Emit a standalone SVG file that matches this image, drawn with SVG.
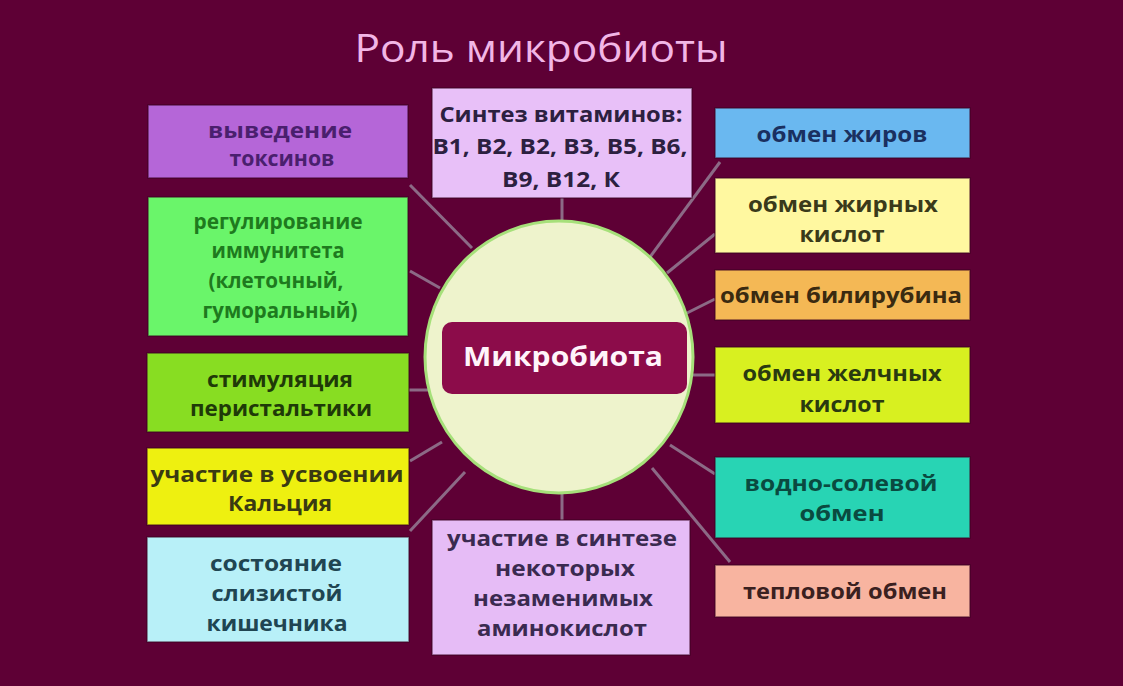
<svg xmlns="http://www.w3.org/2000/svg" width="1123" height="686" viewBox="0 0 1123 686">
<style>
.t{font-family:"Open Sans","Liberation Sans",sans-serif;font-weight:700;font-size:22px;text-anchor:middle}
.bx{stroke:#3a0020;stroke-width:1.5;stroke-opacity:0.6}
.c{stroke:#8c6a86;stroke-width:3;fill:none}
</style>
<rect width="1123" height="686" fill="#5e0035"/>
<text x="541" y="62" font-family="'Open Sans','Liberation Sans',sans-serif" font-size="38" fill="#f2b6e6" text-anchor="middle" textLength="373" lengthAdjust="spacingAndGlyphs">Роль микробиоты</text>

<g id="connectors">
<line class="c" x1="562" y1="198" x2="562" y2="221"/>
<line class="c" x1="562" y1="493" x2="562" y2="520"/>
<line class="c" x1="410" y1="185" x2="472" y2="248"/>
<line class="c" x1="410" y1="271" x2="440" y2="288"/>
<line class="c" x1="408" y1="390" x2="428" y2="390"/>
<line class="c" x1="410" y1="461" x2="442" y2="442"/>
<line class="c" x1="410" y1="531" x2="465" y2="472"/>
<line class="c" x1="720" y1="162" x2="650" y2="257"/>
<line class="c" x1="715" y1="234" x2="667" y2="273"/>
<line class="c" x1="715" y1="299" x2="683" y2="315"/>
<line class="c" x1="688" y1="375" x2="715" y2="375"/>
<line class="c" x1="670" y1="445" x2="715" y2="474"/>
<line class="c" x1="652" y1="468" x2="730" y2="562"/>
</g>

<g id="center">
<ellipse cx="559" cy="357" rx="134" ry="136" fill="#eef3cc" stroke="#a6e07a" stroke-width="3"/>
<rect x="442" y="322" width="245" height="72" rx="10" fill="#8c0c4a"/>
<text x="563" y="366" font-family="'Open Sans','Liberation Sans',sans-serif" font-weight="700" font-size="26" fill="#fff4fa" text-anchor="middle" textLength="200" lengthAdjust="spacingAndGlyphs">Микробиота</text>
</g>

<g id="n-toxins">
<rect class="bx" x="148" y="105" width="260" height="73" fill="#b566d8"/>
<text class="t" x="280" y="138" fill="#4a1f6e" textLength="144" lengthAdjust="spacingAndGlyphs">выведение</text>
<text class="t" x="282" y="166" fill="#4a1f6e" textLength="105" lengthAdjust="spacingAndGlyphs">токсинов</text>
</g>

<g id="n-immun">
<rect class="bx" x="148" y="197" width="260" height="139" fill="#6af56a"/>
<text class="t" x="278" y="229" fill="#1e7a1e" font-size="20" textLength="169" lengthAdjust="spacingAndGlyphs">регулирование</text>
<text class="t" x="278" y="258" fill="#1e7a1e" font-size="20" textLength="133" lengthAdjust="spacingAndGlyphs">иммунитета</text>
<text class="t" x="276" y="288" fill="#1e7a1e" font-size="20" textLength="135" lengthAdjust="spacingAndGlyphs">(клеточный,</text>
<text class="t" x="280" y="318" fill="#1e7a1e" font-size="20" textLength="155" lengthAdjust="spacingAndGlyphs">гуморальный)</text>
</g>

<g id="n-peristalsis">
<rect class="bx" x="147" y="353" width="262" height="79" fill="#88dd22"/>
<text class="t" x="280" y="387" fill="#1f3a08" textLength="146" lengthAdjust="spacingAndGlyphs">стимуляция</text>
<text class="t" x="281" y="416" fill="#1f3a08" textLength="182" lengthAdjust="spacingAndGlyphs">перистальтики</text>
</g>

<g id="n-calcium">
<rect class="bx" x="147" y="448" width="262" height="77" fill="#eef010"/>
<text class="t" x="277" y="482" fill="#3a3a12" textLength="253" lengthAdjust="spacingAndGlyphs">участие в усвоении</text>
<text class="t" x="280" y="511" fill="#3a3a12" textLength="104" lengthAdjust="spacingAndGlyphs">Кальция</text>
</g>

<g id="n-mucosa">
<rect class="bx" x="147" y="537" width="262" height="105" fill="#b8f0f8"/>
<text class="t" x="276" y="571" fill="#204552" textLength="132" lengthAdjust="spacingAndGlyphs">состояние</text>
<text class="t" x="277" y="601" fill="#204552" textLength="131" lengthAdjust="spacingAndGlyphs">слизистой</text>
<text class="t" x="277" y="631" fill="#204552" textLength="141" lengthAdjust="spacingAndGlyphs">кишечника</text>
</g>

<g id="n-vitamins">
<rect class="bx" x="432" y="88" width="260" height="110" fill="#e8c0f8"/>
<text class="t" x="561" y="122" fill="#2c2040" font-size="24" textLength="243" lengthAdjust="spacingAndGlyphs">Синтез витаминов:</text>
<text class="t" x="560" y="154" fill="#2c2040" font-size="24" textLength="255" lengthAdjust="spacingAndGlyphs">В1, В2, В2, В3, В5, В6,</text>
<text class="t" x="561" y="187" fill="#2c2040" font-size="24" textLength="118" lengthAdjust="spacingAndGlyphs">В9, В12, К</text>
</g>

<g id="n-amino">
<rect class="bx" x="432" y="520" width="258" height="135" fill="#e6bcf6"/>
<text class="t" x="562" y="546" fill="#3a2a50" textLength="230" lengthAdjust="spacingAndGlyphs">участие в синтезе</text>
<text class="t" x="565" y="576" fill="#3a2a50" textLength="140" lengthAdjust="spacingAndGlyphs">некоторых</text>
<text class="t" x="563" y="606" fill="#3a2a50" textLength="180" lengthAdjust="spacingAndGlyphs">незаменимых</text>
<text class="t" x="562" y="636" fill="#3a2a50" textLength="170" lengthAdjust="spacingAndGlyphs">аминокислот</text>
</g>

<g id="n-fat">
<rect class="bx" x="715" y="108" width="255" height="50" fill="#6ab8f0"/>
<text class="t" x="842" y="142" fill="#1a3060" textLength="171" lengthAdjust="spacingAndGlyphs">обмен жиров</text>
</g>

<g id="n-fattyacids">
<rect class="bx" x="715" y="178" width="255" height="75" fill="#fff8a0"/>
<text class="t" x="843" y="212" fill="#3a3a1a" textLength="190" lengthAdjust="spacingAndGlyphs">обмен жирных</text>
<text class="t" x="842" y="242" fill="#3a3a1a" textLength="85" lengthAdjust="spacingAndGlyphs">кислот</text>
</g>

<g id="n-bilirubin">
<rect class="bx" x="715" y="270" width="255" height="50" fill="#f4b855"/>
<text class="t" x="841" y="303" fill="#3a2a10" textLength="242" lengthAdjust="spacingAndGlyphs">обмен билирубина</text>
</g>

<g id="n-bileacids">
<rect class="bx" x="715" y="347" width="255" height="76" fill="#d8f020"/>
<text class="t" x="842" y="381" fill="#2a3a10" textLength="199" lengthAdjust="spacingAndGlyphs">обмен желчных</text>
<text class="t" x="842" y="412" fill="#2a3a10" textLength="85" lengthAdjust="spacingAndGlyphs">кислот</text>
</g>

<g id="n-watersalt">
<rect class="bx" x="715" y="457" width="255" height="81" fill="#28d4b4"/>
<text class="t" x="841" y="491" fill="#0a4a40" textLength="193" lengthAdjust="spacingAndGlyphs">водно-солевой</text>
<text class="t" x="842" y="521" fill="#0a4a40" textLength="85" lengthAdjust="spacingAndGlyphs">обмен</text>
</g>

<g id="n-heat">
<rect class="bx" x="715" y="565" width="255" height="52" fill="#f8b4a0"/>
<text class="t" x="845" y="599" fill="#3a2020" textLength="204" lengthAdjust="spacingAndGlyphs">тепловой обмен</text>
</g>
</svg>
